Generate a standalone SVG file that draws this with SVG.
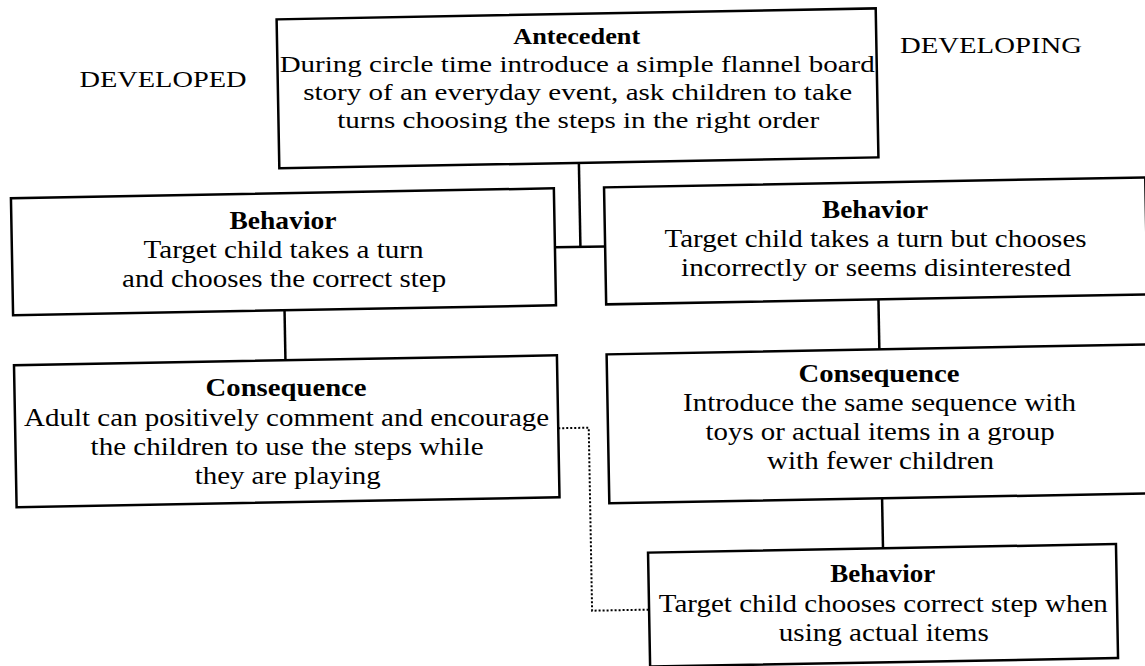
<svg xmlns="http://www.w3.org/2000/svg" width="1145" height="666" viewBox="0 0 1145 666">
<style>
.box{fill:#fff;stroke:#000;stroke-width:2.5}
.t{font-family:"Liberation Serif","Times New Roman",serif;font-size:25px;fill:#000;text-anchor:middle}
.a{font-size:23.5px}
.b{font-weight:bold}
.lbl{font-family:"Liberation Serif","Times New Roman",serif;font-size:24px;fill:#000;text-anchor:middle}
.ln{stroke:#000;stroke-width:2.5;fill:none}
.dot{stroke:#000;stroke-width:2;fill:none;stroke-dasharray:2 2}
</style>
<rect width="1145" height="666" fill="#fff"/>
<text class="lbl" x="163" y="87.4" textLength="167" lengthAdjust="spacingAndGlyphs">DEVELOPED</text>
<text class="lbl" x="991" y="53.2" textLength="182" lengthAdjust="spacingAndGlyphs">DEVELOPING</text>
<g id="connectors" transform="rotate(-1.05 572 333)">
<line class="ln" x1="582" y1="163" x2="582" y2="247"/>
<line class="ln" x1="556.5" y1="247" x2="606.7" y2="247"/>
<line class="ln" x1="285" y1="305" x2="285" y2="355"/>
<line class="ln" x1="879" y1="305" x2="879" y2="355"/>
<line class="ln" x1="879" y1="504" x2="879" y2="554"/>
<polyline class="dot" points="556.5,428 587,428 587,611 644,611"/>
</g>
<g id="antecedent">
<rect class="box" x="282.4" y="14" width="599.2" height="149" transform="rotate(-1.05 572 333)"/>
<text class="t a b" x="576.7" y="43.8" textLength="127" lengthAdjust="spacingAndGlyphs">Antecedent</text>
<text class="t a" x="577.2" y="71.8" textLength="595" lengthAdjust="spacingAndGlyphs">During circle time introduce a simple flannel board</text>
<text class="t a" x="577.7" y="99.8" textLength="549" lengthAdjust="spacingAndGlyphs">story of an everyday event, ask children to take</text>
<text class="t a" x="578.2" y="127.8" textLength="482" lengthAdjust="spacingAndGlyphs">turns choosing the steps in the right order</text>
</g>
<g id="behavior-left">
<rect class="box" x="13.5" y="188" width="543" height="117" transform="rotate(-1.05 572 333)"/>
<text class="t b" x="283" y="229.3" textLength="107" lengthAdjust="spacingAndGlyphs">Behavior</text>
<text class="t" x="283.5" y="258.3" textLength="280" lengthAdjust="spacingAndGlyphs">Target child takes a turn</text>
<text class="t" x="284.1" y="287.3" textLength="324" lengthAdjust="spacingAndGlyphs">and chooses the correct step</text>
</g>
<g id="behavior-right">
<rect class="box" x="606.7" y="188" width="541.3" height="117" transform="rotate(-1.05 572 333)"/>
<text class="t b" x="875" y="218.4" textLength="106" lengthAdjust="spacingAndGlyphs">Behavior</text>
<text class="t" x="875.5" y="247.4" textLength="422" lengthAdjust="spacingAndGlyphs">Target child takes a turn but chooses</text>
<text class="t" x="876.1" y="276.4" textLength="390" lengthAdjust="spacingAndGlyphs">incorrectly or seems disinterested</text>
</g>
<g id="consequence-left">
<rect class="box" x="13.5" y="355" width="543" height="142" transform="rotate(-1.05 572 333)"/>
<text class="t b" x="286.1" y="396.3" textLength="161" lengthAdjust="spacingAndGlyphs">Consequence</text>
<text class="t" x="286.6" y="426.3" textLength="525" lengthAdjust="spacingAndGlyphs">Adult can positively comment and encourage</text>
<text class="t" x="287.1" y="455.3" textLength="393" lengthAdjust="spacingAndGlyphs">the children to use the steps while</text>
<text class="t" x="287.7" y="484.3" textLength="186" lengthAdjust="spacingAndGlyphs">they are playing</text>
</g>
<g id="consequence-right">
<rect class="box" x="606.2" y="355" width="541.8" height="149" transform="rotate(-1.05 572 333)"/>
<text class="t b" x="879" y="382.4" textLength="161" lengthAdjust="spacingAndGlyphs">Consequence</text>
<text class="t" x="879.5" y="411.4" textLength="393" lengthAdjust="spacingAndGlyphs">Introduce the same sequence with</text>
<text class="t" x="880.1" y="440.4" textLength="349" lengthAdjust="spacingAndGlyphs">toys or actual items in a group</text>
<text class="t" x="880.6" y="469.4" textLength="227" lengthAdjust="spacingAndGlyphs">with fewer children</text>
</g>
<g id="behavior-bottom">
<rect class="box" x="644" y="554" width="468" height="114" transform="rotate(-1.05 572 333)"/>
<text class="t b" x="882.7" y="582.4" textLength="105" lengthAdjust="spacingAndGlyphs">Behavior</text>
<text class="t" x="883.3" y="612.4" textLength="449" lengthAdjust="spacingAndGlyphs">Target child chooses correct step when</text>
<text class="t" x="883.8" y="641.4" textLength="210" lengthAdjust="spacingAndGlyphs">using actual items</text>
</g>
</svg>
